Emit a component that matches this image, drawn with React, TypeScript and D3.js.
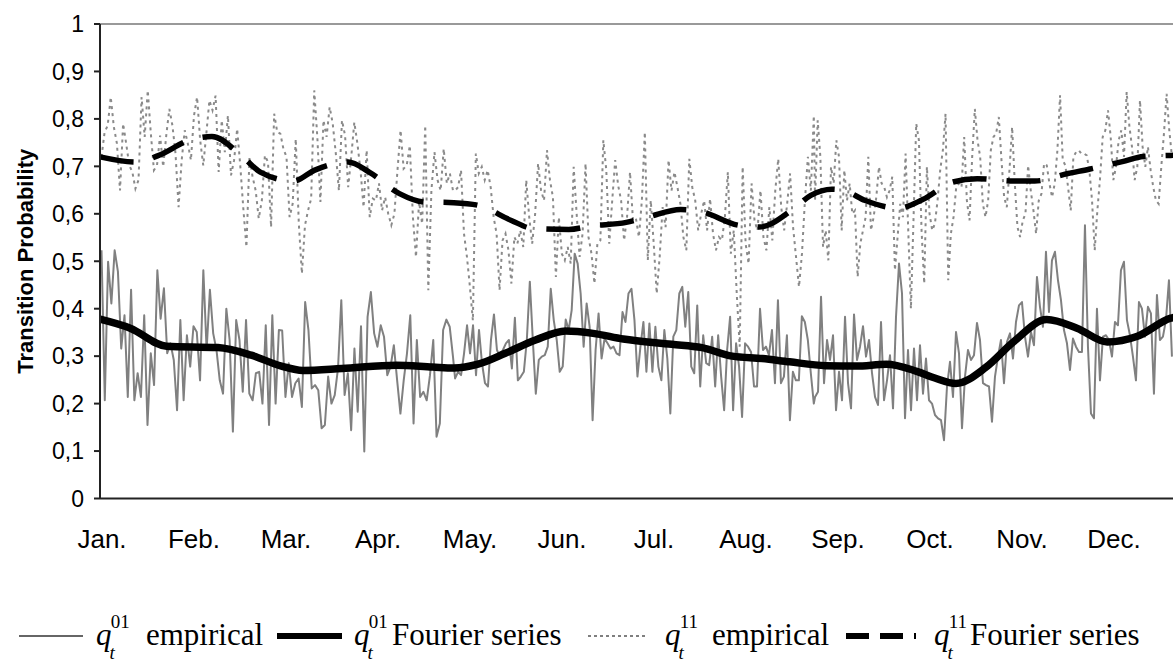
import React, { useEffect, useRef } from "react";
import * as d3 from "d3";

const months = ["Jan.", "Feb.", "Mar.", "Apr.", "May.", "Jun.", "Jul.", "Aug.", "Sep.", "Oct.", "Nov.", "Dec."];
const yTicks = [0, 0.1, 0.2, 0.3, 0.4, 0.5, 0.6, 0.7, 0.8, 0.9, 1];
const yTickLabels = ["0", "0,1", "0,2", "0,3", "0,4", "0,5", "0,6", "0,7", "0,8", "0,9", "1"];

// day ranges of the three stretches the empirical series were read from
const stretchDays = [
  [0.5, 116.7],
  [117.4, 236],
  [236.4, 354.4],
];

// q01 empirical (grey solid)
const q01EmpJanApr = [
  0.523, 0.207, 0.499, 0.411, 0.523, 0.478, 0.316, 0.386, 0.214, 0.44,
  0.207, 0.264, 0.214, 0.386, 0.155, 0.306, 0.239, 0.481, 0.379, 0.443,
  0.306, 0.327, 0.292, 0.186, 0.376, 0.207, 0.344, 0.278, 0.363, 0.351,
  0.249, 0.481, 0.313, 0.44, 0.348, 0.313, 0.249, 0.221, 0.4, 0.334,
  0.141, 0.376, 0.334, 0.225, 0.376, 0.221, 0.207, 0.264, 0.267, 0.2,
  0.365, 0.155, 0.386, 0.2, 0.355, 0.354, 0.214, 0.285, 0.214, 0.243,
  0.253, 0.193, 0.414, 0.355, 0.232, 0.239, 0.228, 0.148, 0.155, 0.257,
  0.2, 0.218, 0.274, 0.418, 0.218, 0.264, 0.144, 0.316, 0.183, 0.363,
  0.099, 0.383, 0.435, 0.348, 0.32, 0.365, 0.341, 0.26, 0.278, 0.323,
  0.249, 0.179, 0.249, 0.306, 0.386, 0.158, 0.334, 0.214, 0.225, 0.207,
  0.26, 0.334, 0.13, 0.158, 0.355, 0.377, 0.362, 0.299,
];
const q01EmpMayAug = [
  0.253, 0.267, 0.26, 0.306, 0.365, 0.306, 0.365, 0.26, 0.355, 0.285,
  0.243, 0.236, 0.334, 0.388, 0.313, 0.299, 0.313, 0.327, 0.334, 0.274,
  0.381, 0.249, 0.257, 0.267, 0.334, 0.457, 0.334, 0.221, 0.292, 0.299,
  0.302, 0.32, 0.442, 0.376, 0.334, 0.267, 0.278, 0.377, 0.355, 0.397,
  0.516, 0.495, 0.432, 0.32, 0.411, 0.362, 0.165, 0.313, 0.39, 0.295,
  0.337, 0.327, 0.316, 0.32, 0.306, 0.302, 0.393, 0.372, 0.432, 0.442,
  0.376, 0.257, 0.32, 0.372, 0.267, 0.369, 0.267, 0.362, 0.278, 0.249,
  0.355, 0.295, 0.179, 0.341, 0.355, 0.432, 0.446, 0.362, 0.435, 0.278,
  0.264, 0.407, 0.236, 0.344, 0.285, 0.281, 0.341, 0.236, 0.344, 0.257,
  0.186, 0.313, 0.383, 0.186, 0.327, 0.278, 0.172, 0.327, 0.32, 0.309,
  0.236, 0.236, 0.4, 0.313, 0.32, 0.302, 0.355, 0.243, 0.418, 0.243,
  0.257, 0.344, 0.165, 0.267, 0.249, 0.249, 0.384, 0.372, 0.334, 0.264, 0.2,
];
const q01EmpSepDec = [
  0.214, 0.225, 0.425, 0.243, 0.334, 0.292, 0.344, 0.186, 0.267, 0.207,
  0.383, 0.243, 0.19, 0.388, 0.292, 0.32, 0.363, 0.299, 0.334, 0.264,
  0.214, 0.197, 0.372, 0.207, 0.249, 0.302, 0.19, 0.383, 0.495, 0.432,
  0.169, 0.313, 0.186, 0.316, 0.207, 0.323, 0.221, 0.295, 0.207, 0.2,
  0.176, 0.169, 0.165, 0.123, 0.236, 0.288, 0.214, 0.351, 0.306, 0.148,
  0.257, 0.313, 0.292, 0.302, 0.37, 0.334, 0.243, 0.239, 0.236, 0.162,
  0.257, 0.299, 0.334, 0.243, 0.33, 0.348, 0.295, 0.372, 0.407, 0.414,
  0.341, 0.299, 0.351, 0.323, 0.467, 0.404, 0.362, 0.52, 0.393, 0.502,
  0.52, 0.46, 0.418, 0.355, 0.327, 0.271, 0.337, 0.32, 0.309, 0.309,
  0.576, 0.32, 0.179, 0.169, 0.4, 0.249, 0.341, 0.344, 0.334, 0.299,
  0.372, 0.365, 0.481, 0.499, 0.376, 0.344, 0.299, 0.249, 0.414, 0.4,
  0.341, 0.404, 0.39, 0.221, 0.429, 0.334, 0.341, 0.376, 0.46, 0.299,
];

// q11 empirical (grey dotted)
const q11EmpJanApr = [
  0.72, 0.772, 0.786, 0.846, 0.783, 0.748, 0.649, 0.79, 0.748, 0.702,
  0.688, 0.653, 0.671, 0.846, 0.762, 0.86, 0.769, 0.692, 0.702, 0.765,
  0.699, 0.765, 0.821, 0.786, 0.727, 0.614, 0.713, 0.776, 0.748, 0.713,
  0.807, 0.846, 0.755, 0.702, 0.769, 0.839, 0.818, 0.849, 0.688, 0.797,
  0.73, 0.807, 0.681, 0.713, 0.779, 0.702, 0.611, 0.53, 0.72, 0.678,
  0.649, 0.59, 0.628, 0.723, 0.709, 0.572, 0.811, 0.772, 0.769, 0.737,
  0.72, 0.593, 0.621, 0.758, 0.579, 0.474, 0.576, 0.607, 0.632, 0.86,
  0.762, 0.625, 0.797, 0.762, 0.825, 0.79, 0.727, 0.649, 0.797, 0.765,
  0.656, 0.72, 0.793, 0.748, 0.692, 0.614, 0.734, 0.593, 0.632, 0.628,
  0.664, 0.607, 0.635, 0.6, 0.576, 0.6, 0.692, 0.776, 0.695, 0.702,
  0.744, 0.593, 0.509, 0.625, 0.579, 0.786, 0.439, 0.649, 0.73, 0.671,
  0.649, 0.737, 0.664, 0.685, 0.649,
];
const q11EmpMayAug = [
  0.649, 0.656, 0.692, 0.558, 0.509, 0.446, 0.375, 0.727, 0.685, 0.699,
  0.671, 0.692, 0.656, 0.593, 0.558, 0.439, 0.544, 0.558, 0.523, 0.453,
  0.551, 0.537, 0.565, 0.53, 0.671, 0.593, 0.537, 0.6, 0.706, 0.649,
  0.628, 0.734, 0.671, 0.635, 0.467, 0.593, 0.516, 0.502, 0.53, 0.495,
  0.699, 0.6, 0.509, 0.558, 0.706, 0.551, 0.516, 0.453, 0.537, 0.544,
  0.755, 0.692, 0.537, 0.628, 0.713, 0.66, 0.628, 0.544, 0.593, 0.688,
  0.586, 0.59, 0.551, 0.628, 0.772, 0.502, 0.628, 0.537, 0.432, 0.509,
  0.614, 0.572, 0.713, 0.649, 0.688, 0.656, 0.621, 0.551, 0.523, 0.716,
  0.656, 0.628, 0.565, 0.6, 0.628, 0.565, 0.632, 0.558, 0.523, 0.551,
  0.544, 0.593, 0.688, 0.516, 0.565, 0.432, 0.32, 0.699, 0.537, 0.495,
  0.664, 0.586, 0.565, 0.649, 0.551, 0.523, 0.614, 0.544, 0.649, 0.716,
  0.614, 0.565, 0.621, 0.685, 0.572, 0.509, 0.446, 0.516, 0.628, 0.72,
  0.649, 0.807,
];
const q11EmpSepDec = [
  0.628, 0.797, 0.72, 0.53, 0.565, 0.502, 0.699, 0.664, 0.755, 0.72,
  0.565, 0.692, 0.628, 0.664, 0.6, 0.607, 0.467, 0.537, 0.565, 0.593,
  0.72, 0.565, 0.593, 0.635, 0.699, 0.664, 0.656, 0.635, 0.649, 0.678,
  0.481, 0.551, 0.621, 0.593, 0.727, 0.565, 0.4, 0.593, 0.79, 0.755,
  0.565, 0.453, 0.699, 0.6, 0.565, 0.579, 0.628, 0.692, 0.734, 0.811,
  0.46, 0.558, 0.593, 0.656, 0.664, 0.656, 0.762, 0.628, 0.586, 0.72,
  0.821, 0.755, 0.72, 0.621, 0.593, 0.628, 0.734, 0.762, 0.769, 0.804,
  0.713, 0.635, 0.614, 0.692, 0.783, 0.664, 0.572, 0.551, 0.586, 0.6,
  0.702, 0.649, 0.607, 0.558, 0.628, 0.642, 0.706, 0.702, 0.664, 0.635,
  0.664, 0.734, 0.85, 0.713, 0.702, 0.656, 0.607, 0.72, 0.73, 0.734,
  0.727, 0.727, 0.723, 0.692, 0.628, 0.523, 0.607, 0.674, 0.762, 0.776,
  0.818, 0.762, 0.671, 0.699, 0.755, 0.776, 0.72, 0.857, 0.786, 0.741,
  0.671, 0.699, 0.839, 0.741, 0.699, 0.741, 0.692, 0.656, 0.628, 0.621,
  0.699, 0.769, 0.853, 0.776, 0.72,
];

// Fourier series fits
const q01FourierDays = [0, 10, 22, 39, 50, 60, 67, 80, 98, 110, 117, 125, 134, 144, 154, 163, 173, 189, 199, 209, 219, 228, 240, 250, 260, 270, 276, 283, 293, 302, 313, 323, 333, 343, 354, 365];
const q01FourierVals = [0.378, 0.359, 0.321, 0.318, 0.302, 0.279, 0.27, 0.274, 0.281, 0.277, 0.275, 0.283, 0.306, 0.334, 0.353, 0.348, 0.336, 0.325, 0.318, 0.3, 0.295, 0.288, 0.28, 0.279, 0.283, 0.268, 0.254, 0.2425, 0.277, 0.33, 0.377, 0.359, 0.33, 0.342, 0.38, 0.39];
const q11FourierDays = [0, 12, 19, 30, 37, 47, 53, 64, 71, 82, 89, 99, 107, 117, 125, 136, 143, 155, 162, 174, 181, 192, 199, 211, 218, 229, 235, 242, 246, 253, 264, 272, 282, 290, 302, 309, 320, 327, 338, 345, 354, 365];
const q11FourierVals = [0.72, 0.709, 0.722, 0.756, 0.763, 0.721, 0.688, 0.669, 0.692, 0.709, 0.688, 0.6425, 0.625, 0.6235, 0.618, 0.586, 0.569, 0.567, 0.574, 0.582, 0.593, 0.609, 0.604, 0.576, 0.572, 0.609, 0.639, 0.652, 0.649, 0.628, 0.612, 0.63, 0.667, 0.674, 0.669, 0.669, 0.685, 0.694, 0.71, 0.721, 0.723, 0.725];

const sans = "'Liberation Sans', Arial, sans-serif";
const serif = "'Liberation Serif', 'Times New Roman', serif";

// spread each stretch evenly over its day range
const spread = (stretches: number[][]) =>
  stretches.flatMap((vals, s) => {
    const [d0, d1] = stretchDays[s];
    const pos = d3.scaleLinear().domain([0, vals.length - 1]).range([d0, d1]);
    return vals.map((v, i) => [pos(i), v] as [number, number]);
  });

export default function App() {
  const svgRef = useRef(null);

  useEffect(() => {
    const width = 1173;
    const svg = d3.select(svgRef.current);
    svg.selectAll("*").remove();

    const x = d3.scaleLinear().domain([0, 365]).range([100, 1204]);
    const y = d3.scaleLinear().domain([0, 1]).range([498.5, 24]);

    const q01Emp = spread([q01EmpJanApr, q01EmpMayAug, q01EmpSepDec]);
    const q11Emp = spread([q11EmpJanApr, q11EmpMayAug, q11EmpSepDec]);

    const straight = d3
      .line<[number, number]>()
      .x((d) => x(d[0]))
      .y((d) => y(d[1]));
    const smooth = d3
      .line<[number, number]>()
      .x((d) => x(d[0]))
      .y((d) => y(d[1]))
      .curve(d3.curveMonotoneX);

    // frame top
    svg
      .append("line")
      .attr("x1", 100)
      .attr("x2", width)
      .attr("y1", y(1))
      .attr("y2", y(1))
      .attr("stroke", "#999")
      .attr("stroke-width", 2);

    // series
    svg
      .append("path")
      .attr("d", straight(q11Emp))
      .attr("fill", "none")
      .attr("stroke", "#8a8a8a")
      .attr("stroke-width", 2)
      .attr("stroke-dasharray", "3,4");

    svg
      .append("path")
      .attr("d", straight(q01Emp))
      .attr("fill", "none")
      .attr("stroke", "#808080")
      .attr("stroke-width", 2)
      .attr("stroke-linejoin", "round");

    svg
      .append("path")
      .attr("d", smooth(q11FourierDays.map((d, i) => [d, q11FourierVals[i]])))
      .attr("fill", "none")
      .attr("stroke", "#000")
      .attr("stroke-width", 5.5)
      .attr("stroke-dasharray", "34,20");

    svg
      .append("path")
      .attr("d", smooth(q01FourierDays.map((d, i) => [d, q01FourierVals[i]])))
      .attr("fill", "none")
      .attr("stroke", "#000")
      .attr("stroke-width", 7.5);

    // y axis
    const yAxis = svg.append("g");
    yAxis
      .append("line")
      .attr("x1", 100)
      .attr("x2", 100)
      .attr("y1", y(1))
      .attr("y2", y(0))
      .attr("stroke", "#222")
      .attr("stroke-width", 2);
    yAxis
      .selectAll("line.tick")
      .data(yTicks)
      .join("line")
      .attr("class", "tick")
      .attr("x1", 94)
      .attr("x2", 100)
      .attr("y1", (d) => y(d))
      .attr("y2", (d) => y(d))
      .attr("stroke", "#222")
      .attr("stroke-width", 2);
    yAxis
      .selectAll("text")
      .data(yTicks)
      .join("text")
      .attr("x", 84)
      .attr("y", (d) => y(d))
      .attr("dy", "0.36em")
      .attr("text-anchor", "end")
      .attr("font-family", sans)
      .attr("font-size", 23)
      .text((d, i) => yTickLabels[i]);

    svg
      .append("text")
      .attr("transform", `translate(33,${y(0.5)}) rotate(-90)`)
      .attr("text-anchor", "middle")
      .attr("font-family", sans)
      .attr("font-weight", "bold")
      .attr("font-size", 22)
      .text("Transition Probability");

    // x axis
    svg
      .append("line")
      .attr("x1", 100)
      .attr("x2", width)
      .attr("y1", y(0))
      .attr("y2", y(0))
      .attr("stroke", "#222")
      .attr("stroke-width", 2);
    svg
      .append("g")
      .selectAll("text")
      .data(months)
      .join("text")
      .attr("x", (d, i) => x((i * 365) / 12) + 2)
      .attr("y", 548)
      .attr("text-anchor", "middle")
      .attr("font-family", sans)
      .attr("font-size", 26)
      .text((d) => d);

    // legend
    const legendItems = [
      { x0: 19, x1: 83, width: 1.5, color: "#333", dash: null, q: 96, sup: "01", label: "empirical", lx: 146 },
      { x0: 277, x1: 342, width: 6, color: "#000", dash: null, q: 354, sup: "01", label: "Fourier series", lx: 392 },
      { x0: 588, x1: 648, width: 1.5, color: "#555", dash: "3,3", q: 665, sup: "11", label: "empirical", lx: 712 },
      { x0: 846, x1: 916, width: 6, color: "#000", dash: "23,11", q: 934, sup: "11", label: "Fourier series", lx: 970 },
    ];
    const lg = svg.append("g");
    legendItems.forEach((it) => {
      lg.append("line")
        .attr("x1", it.x0)
        .attr("x2", it.x1)
        .attr("y1", 636)
        .attr("y2", 636)
        .attr("stroke", it.color)
        .attr("stroke-width", it.width)
        .attr("stroke-dasharray", it.dash);
      // q with subscript t and superscript, as one text
      const sym = lg
        .append("text")
        .attr("x", it.q)
        .attr("y", 645)
        .attr("font-family", serif);
      sym.append("tspan").attr("font-style", "italic").attr("font-size", 31).text("q");
      sym
        .append("tspan")
        .attr("font-style", "italic")
        .attr("font-size", 19)
        .attr("dx", -2)
        .attr("dy", 14)
        .text("t");
      sym
        .append("tspan")
        .attr("font-size", 19)
        .attr("dx", -4)
        .attr("dy", -31)
        .text(it.sup);
      lg.append("text")
        .attr("x", it.lx)
        .attr("y", 645)
        .attr("font-family", serif)
        .attr("font-size", 31)
        .text(it.label);
    });
  }, []);

  return (
    <svg
      ref={svgRef}
      width={1173}
      height={666}
      style={{ position: "absolute", left: 0, top: 0, background: "#fff" }}
    ></svg>
  );
}
